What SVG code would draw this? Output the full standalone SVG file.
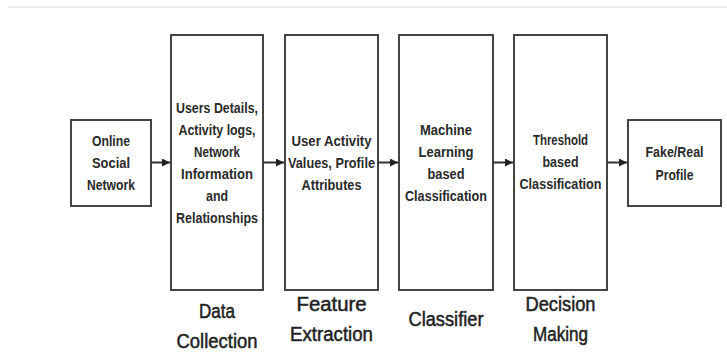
<svg xmlns="http://www.w3.org/2000/svg" width="727" height="356" viewBox="0 0 727 356">
  <defs>
    <marker id="arrow" viewBox="0 0 10 10" refX="10" refY="5" markerWidth="8" markerHeight="8" markerUnits="userSpaceOnUse" orient="auto">
      <path d="M0,0 L10,5 L0,10 z" fill="#222"/>
    </marker>
    <style>
      .box { fill: #ffffff; stroke: #444; stroke-width: 2; }
      .t { font-family: "Liberation Sans", Arial, sans-serif; font-size: 15px; font-weight: bold; fill: #2a2a2a; text-anchor: middle; }
      .lbl { font-family: "Liberation Sans", Arial, sans-serif; font-size: 20px; fill: #222; text-anchor: middle; stroke: #222; stroke-width: 0.5; }
      .conn { stroke: #333; stroke-width: 2; fill: none; }
    </style>
  </defs>
  <rect x="0" y="0" width="727" height="356" fill="#ffffff"/>
  <line x1="8" y1="7" x2="727" y2="7" stroke="#e4e4e4" stroke-width="1.5"/>

  <g id="osn">
    <rect class="box" x="71" y="120" width="80" height="86"/>
    <text class="t" x="111" y="146" textLength="38" lengthAdjust="spacingAndGlyphs">Online</text>
    <text class="t" x="111" y="168" textLength="38" lengthAdjust="spacingAndGlyphs">Social</text>
    <text class="t" x="111" y="190" textLength="48" lengthAdjust="spacingAndGlyphs">Network</text>
  </g>

  <g id="data-collection">
    <rect class="box" x="171" y="35" width="92" height="255"/>
    <text class="t" x="217" y="113" textLength="82" lengthAdjust="spacingAndGlyphs">Users Details,</text>
    <text class="t" x="217" y="135" textLength="77" lengthAdjust="spacingAndGlyphs">Activity logs,</text>
    <text class="t" x="217" y="157" textLength="46" lengthAdjust="spacingAndGlyphs">Network</text>
    <text class="t" x="217" y="179" textLength="72" lengthAdjust="spacingAndGlyphs">Information</text>
    <text class="t" x="217" y="201" textLength="22" lengthAdjust="spacingAndGlyphs">and</text>
    <text class="t" x="217" y="223" textLength="82" lengthAdjust="spacingAndGlyphs">Relationships</text>
    <text class="lbl" x="217" y="318" textLength="36" lengthAdjust="spacingAndGlyphs">Data</text>
    <text class="lbl" x="217" y="348" textLength="81" lengthAdjust="spacingAndGlyphs">Collection</text>
  </g>

  <g id="feature-extraction">
    <rect class="box" x="285" y="35" width="93" height="255"/>
    <text class="t" x="331.5" y="145.5" textLength="80" lengthAdjust="spacingAndGlyphs">User Activity</text>
    <text class="t" x="331.5" y="167.5" textLength="87" lengthAdjust="spacingAndGlyphs">Values, Profile</text>
    <text class="t" x="331.5" y="189.5" textLength="60" lengthAdjust="spacingAndGlyphs">Attributes</text>
    <text class="lbl" x="331.5" y="311" textLength="70" lengthAdjust="spacingAndGlyphs">Feature</text>
    <text class="lbl" x="331.5" y="341" textLength="83" lengthAdjust="spacingAndGlyphs">Extraction</text>
  </g>

  <g id="classifier">
    <rect class="box" x="399" y="35" width="94" height="255"/>
    <text class="t" x="446" y="135" textLength="52" lengthAdjust="spacingAndGlyphs">Machine</text>
    <text class="t" x="446" y="157" textLength="55" lengthAdjust="spacingAndGlyphs">Learning</text>
    <text class="t" x="446" y="179" textLength="37" lengthAdjust="spacingAndGlyphs">based</text>
    <text class="t" x="446" y="201" textLength="82" lengthAdjust="spacingAndGlyphs">Classification</text>
    <text class="lbl" x="446" y="326" textLength="75" lengthAdjust="spacingAndGlyphs">Classifier</text>
  </g>

  <g id="decision-making">
    <rect class="box" x="514" y="35" width="93" height="255"/>
    <text class="t" x="560.5" y="145" textLength="55" lengthAdjust="spacingAndGlyphs">Threshold</text>
    <text class="t" x="560.5" y="167" textLength="36" lengthAdjust="spacingAndGlyphs">based</text>
    <text class="t" x="560.5" y="189" textLength="82" lengthAdjust="spacingAndGlyphs">Classification</text>
    <text class="lbl" x="560.5" y="311" textLength="70" lengthAdjust="spacingAndGlyphs">Decision</text>
    <text class="lbl" x="560.5" y="341" textLength="55" lengthAdjust="spacingAndGlyphs">Making</text>
  </g>

  <g id="fake-real-profile">
    <rect class="box" x="628" y="120" width="93" height="86"/>
    <text class="t" x="674.5" y="157" textLength="58" lengthAdjust="spacingAndGlyphs">Fake/Real</text>
    <text class="t" x="674.5" y="180" textLength="38" lengthAdjust="spacingAndGlyphs">Profile</text>
  </g>

  <g id="connectors">
    <line class="conn" x1="151" y1="162.5" x2="170" y2="162.5" marker-end="url(#arrow)"/>
    <line class="conn" x1="263" y1="162.5" x2="284" y2="162.5" marker-end="url(#arrow)"/>
    <line class="conn" x1="378" y1="162.5" x2="398" y2="162.5" marker-end="url(#arrow)"/>
    <line class="conn" x1="493" y1="162.5" x2="513" y2="162.5" marker-end="url(#arrow)"/>
    <line class="conn" x1="607" y1="162.5" x2="627" y2="162.5" marker-end="url(#arrow)"/>
  </g>
</svg>
